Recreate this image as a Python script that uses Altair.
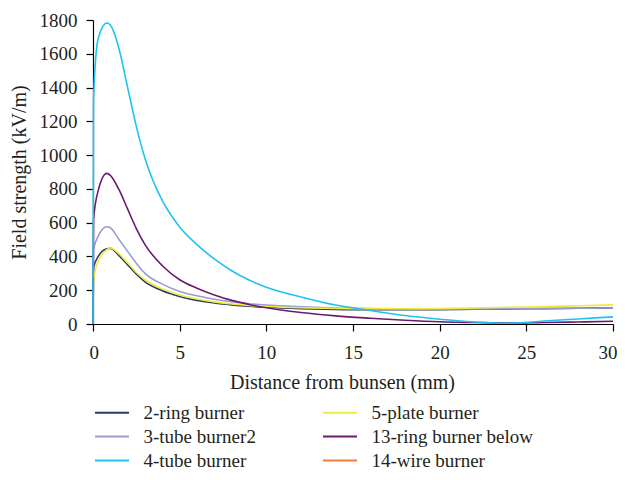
import altair as alt
import pandas as pd

# Distance from bunsen (mm)
X = [0, 0.03, 0.3, 0.8, 1.0, 1.5, 2, 2.5, 3, 4, 5, 6, 7, 8, 9, 10, 12, 14, 16, 18, 20, 22, 24, 26, 28, 30]

ring2 = [0, 330, 400, 445, 448, 405, 350, 295, 250, 197, 163, 140, 124, 113, 105, 99, 91, 86, 84, 84, 85, 87, 89, 91, 93, 95]
tube3 = [0, 438, 520, 576, 570, 500, 430, 360, 300, 236, 193, 167, 147, 132, 120, 112, 102, 95, 91, 89, 88, 89, 90, 92, 93, 95]
tube4 = [0, 1330, 1690, 1782, 1770, 1630, 1400, 1170, 980, 730, 575, 470, 385, 315, 260, 218, 160, 112, 80, 50, 28, 12, 4, 18, 30, 42]
plate5 = [0, 260, 370, 440, 450, 415, 362, 305, 262, 208, 172, 148, 131, 119, 110, 104, 96, 92, 90, 90, 92, 95, 99, 103, 108, 113]
ring13 = [0, 616, 790, 892, 880, 795, 680, 565, 470, 345, 262, 212, 172, 140, 116, 96, 68, 48, 34, 22, 13, 9, 6, 9, 12, 16]

series = {
    "2-ring burner": ring2,
    "3-tube burner2": tube3,
    "5-plate burner": plate5,
    "13-ring burner below": ring13,
    "4-tube burner": tube4,
}

# legend order (column-major in two columns); 14-wire burner has no visible curve
legend_order = ["2-ring burner", "3-tube burner2", "4-tube burner",
                "5-plate burner", "13-ring burner below", "14-wire burner"]
colors = ["#263d66", "#9b9bd4", "#1ec3f2", "#f2ea3c", "#6d1a6e", "#f47a3a"]

rows = []
for k, (name, vals) in enumerate(series.items()):
    for x, v in zip(X, vals):
        rows.append({"x": x, "y": v, "series": name, "ord": k})
df = pd.DataFrame(rows)

FONT = "Liberation Serif"

chart = alt.Chart(df).mark_line(strokeWidth=1.6, interpolate="monotone").encode(
    x=alt.X("x:Q",
            scale=alt.Scale(domain=[0, 30], nice=False),
            axis=alt.Axis(values=[0, 5, 10, 15, 20, 25, 30], title="Distance from bunsen (mm)",
                          grid=False, tickSize=7, labelPadding=12, labelFontSize=19,
                          labelFlush=True, labelFlushOffset=4,
                          titleFontSize=20, titleFontWeight="normal",
                          titleBaseline="alphabetic", titleY=64, titleX=249,
                          titleAlign="center", titleAnchor="start")),
    y=alt.Y("y:Q",
            scale=alt.Scale(domain=[0, 1800], nice=False),
            axis=alt.Axis(values=list(range(0, 1801, 200)), format="d",
                          title="Field strength (kV/m)", labelFlush=False,
                          grid=False, tickSize=7, labelPadding=9, labelFontSize=19,
                          titleFontSize=20, titleFontWeight="normal",
                          titleBaseline="alphabetic", titleX=-68, titleY=152,
                          titleAngle=270, titleAlign="center", titleAnchor="start")),
    color=alt.Color("series:N",
                    scale=alt.Scale(domain=legend_order, range=colors),
                    legend=alt.Legend(title=None, orient="none", legendX=9.5, legendY=383,
                                      columns=2, columnPadding=62, rowPadding=4,
                                      symbolType="M-2,0H2", symbolSize=289,
                                      symbolStrokeWidth=1.8, labelOffset=22, labelLimit=400,
                                      labelFontSize=19, labelFont=FONT, padding=0)),
    detail="series:N",
    order="ord:Q",
).properties(
    width=520, height=304,
    autosize=alt.AutoSizeParams(type="none"),
    padding={"left": 85, "top": 12, "right": 4, "bottom": 146},
).configure_view(stroke=None).configure_axis(
    labelFont=FONT, titleFont=FONT, domainColor="#000000", tickColor="#000000",
    labelColor="#231f20", titleColor="#231f20", domainWidth=1.2, tickWidth=1.2,
).configure_legend(labelColor="#231f20")

chart.save("out.html", embed_options={"renderer": "svg", "actions": False})
